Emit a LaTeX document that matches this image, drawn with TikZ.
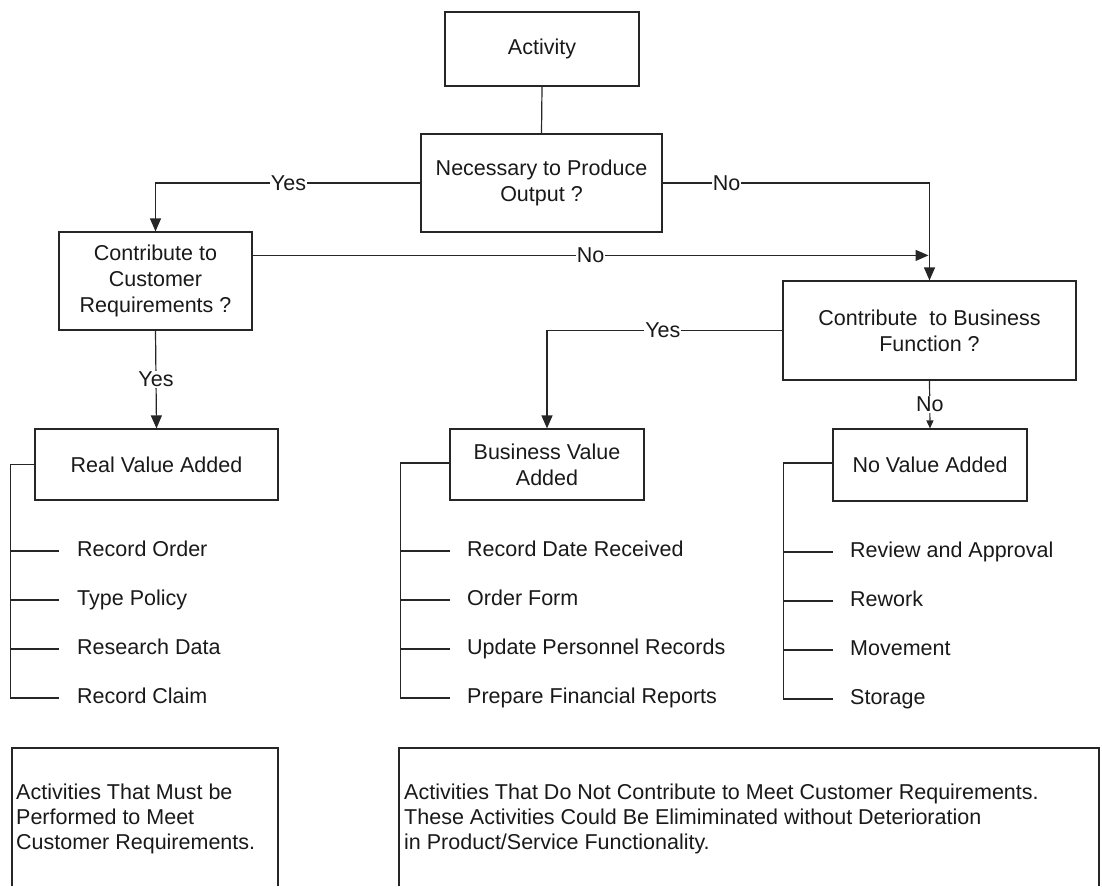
\documentclass[tikz,border=0pt]{standalone}
\usepackage{fontspec}
\setmainfont{Liberation Sans}
\usetikzlibrary{arrows.meta,calc}
\begin{document}
\begin{tikzpicture}[x=1pt,y=-1pt,
  every node/.style={font=\fontsize{21.5}{26}\selectfont, text=black!90},
  box/.style={draw=black!85, line width=1.2pt, inner sep=0pt, align=center},
  lab/.style={fill=white, inner xsep=1pt, inner ysep=1pt},
  item/.style={anchor=west, inner sep=0pt, text height=15pt, text depth=4.5pt},
  ln/.style={draw=black!85, line width=1.2pt},
  arr/.style={ln, -{Triangle[width=11pt,length=13pt]}},
  sarr/.style={ln, -{Triangle[width=7pt,length=8pt]}},
  note/.style={anchor=west, inner sep=0pt, align=left, font=\fontsize{21.5}{25}\selectfont}
]
\useasboundingbox (0,0) rectangle (1102,886);

% main boxes
\node[box, minimum width=194pt, minimum height=74pt] (act) at (542,49) {Activity};
\node[box, minimum width=241pt, minimum height=98pt] (nec) at (541.5,183) {Necessary to Produce\\Output ?};
\node[box, minimum width=193pt, minimum height=98pt] (ccr) at (155.5,281) {Contribute to\\Customer\\Requirements ?};
\node[box, minimum width=293pt, minimum height=99pt] (cbf) at (929.5,330.5) {Contribute\ \ to Business\\Function ?};
\node[box, minimum width=243pt, minimum height=71pt] (rva) at (156.5,464.5) {Real Value Added};
\node[box, minimum width=194pt, minimum height=71pt] (bva) at (547,464.5) {Business Value\\Added};
\node[box, minimum width=194pt, minimum height=72pt] (nva) at (930,465) {No Value Added};

% connectors
\draw[ln] (act.south) -- (nec.north);
\draw[arr] (nec.west) -| node[lab, pos=0.249] (yes1) {Yes} (ccr.north);
\draw[arr] (nec.east) -| node[lab, pos=0.12] (no1) {No} (cbf.north);
\coordinate (s2) at ($(ccr.north east)+(0,24)$);
\coordinate (e2) at ($(cbf.north |- s2)+(-1,0)$);
\draw[arr] (s2) -- node[lab, pos=0.5] (no2) {No} (e2);
\draw[arr] (ccr.south) -- node[lab, pos=0.5] (yes3) {Yes} (rva.north);
\draw[arr] (cbf.west) -| node[lab, pos=0.254] (yes2) {Yes} (bva.north);
\draw[sarr] (cbf.south) -- node[lab, pos=0.5] (no3) {No} (nva.north);

% real value added items
\node[item] (r1) at (77,551) {Record Order};
\node[item] (r2) at (77,600) {Type Policy};
\node[item] (r3) at (77,649) {Research Data};
\node[item] (r4) at (77,698) {Record Claim};
\foreach \i in {1,...,4}
  \draw[ln] (rva.west) -- ++(-24,0) |- ([xshift=-18pt]r\i.west);

% business value added items
\node[item] (b1) at (467,551) {Record Date Received};
\node[item] (b2) at (467,600) {Order Form};
\node[item] (b3) at (467,649) {Update Personnel Records};
\node[item] (b4) at (467,698) {Prepare Financial Reports};
\foreach \i in {1,...,4}
  \draw[ln] ([yshift=1.5pt]bva.west) -- ++(-49,0) |- ([xshift=-17pt]b\i.west);

% no value added items
\node[item] (n1) at (850,552) {Review and Approval};
\node[item] (n2) at (850,601) {Rework};
\node[item] (n3) at (850,650) {Movement};
\node[item] (n4) at (850,699) {Storage};
\foreach \i in {1,...,4}
  \draw[ln] ([yshift=2pt]nva.west) -- ++(-49,0) |- ([xshift=-17pt]n\i.west);

% bottom notes
\draw[ln] (12,886) -- (12,748) -- (278,748) -- (278,886);
\draw[ln] (399,886) -- (399,748) -- (1099,748) -- (1099,886);
\node[note] (note1) at (16,819) {Activities That Must be\\Performed to Meet\\Customer Requirements.};
\node[note] (note2) at (404,819) {Activities That Do Not Contribute to Meet Customer Requirements.\\These Activities Could Be Elimiminated without Deterioration\\in Product/Service Functionality.};
\end{tikzpicture}
\end{document}
